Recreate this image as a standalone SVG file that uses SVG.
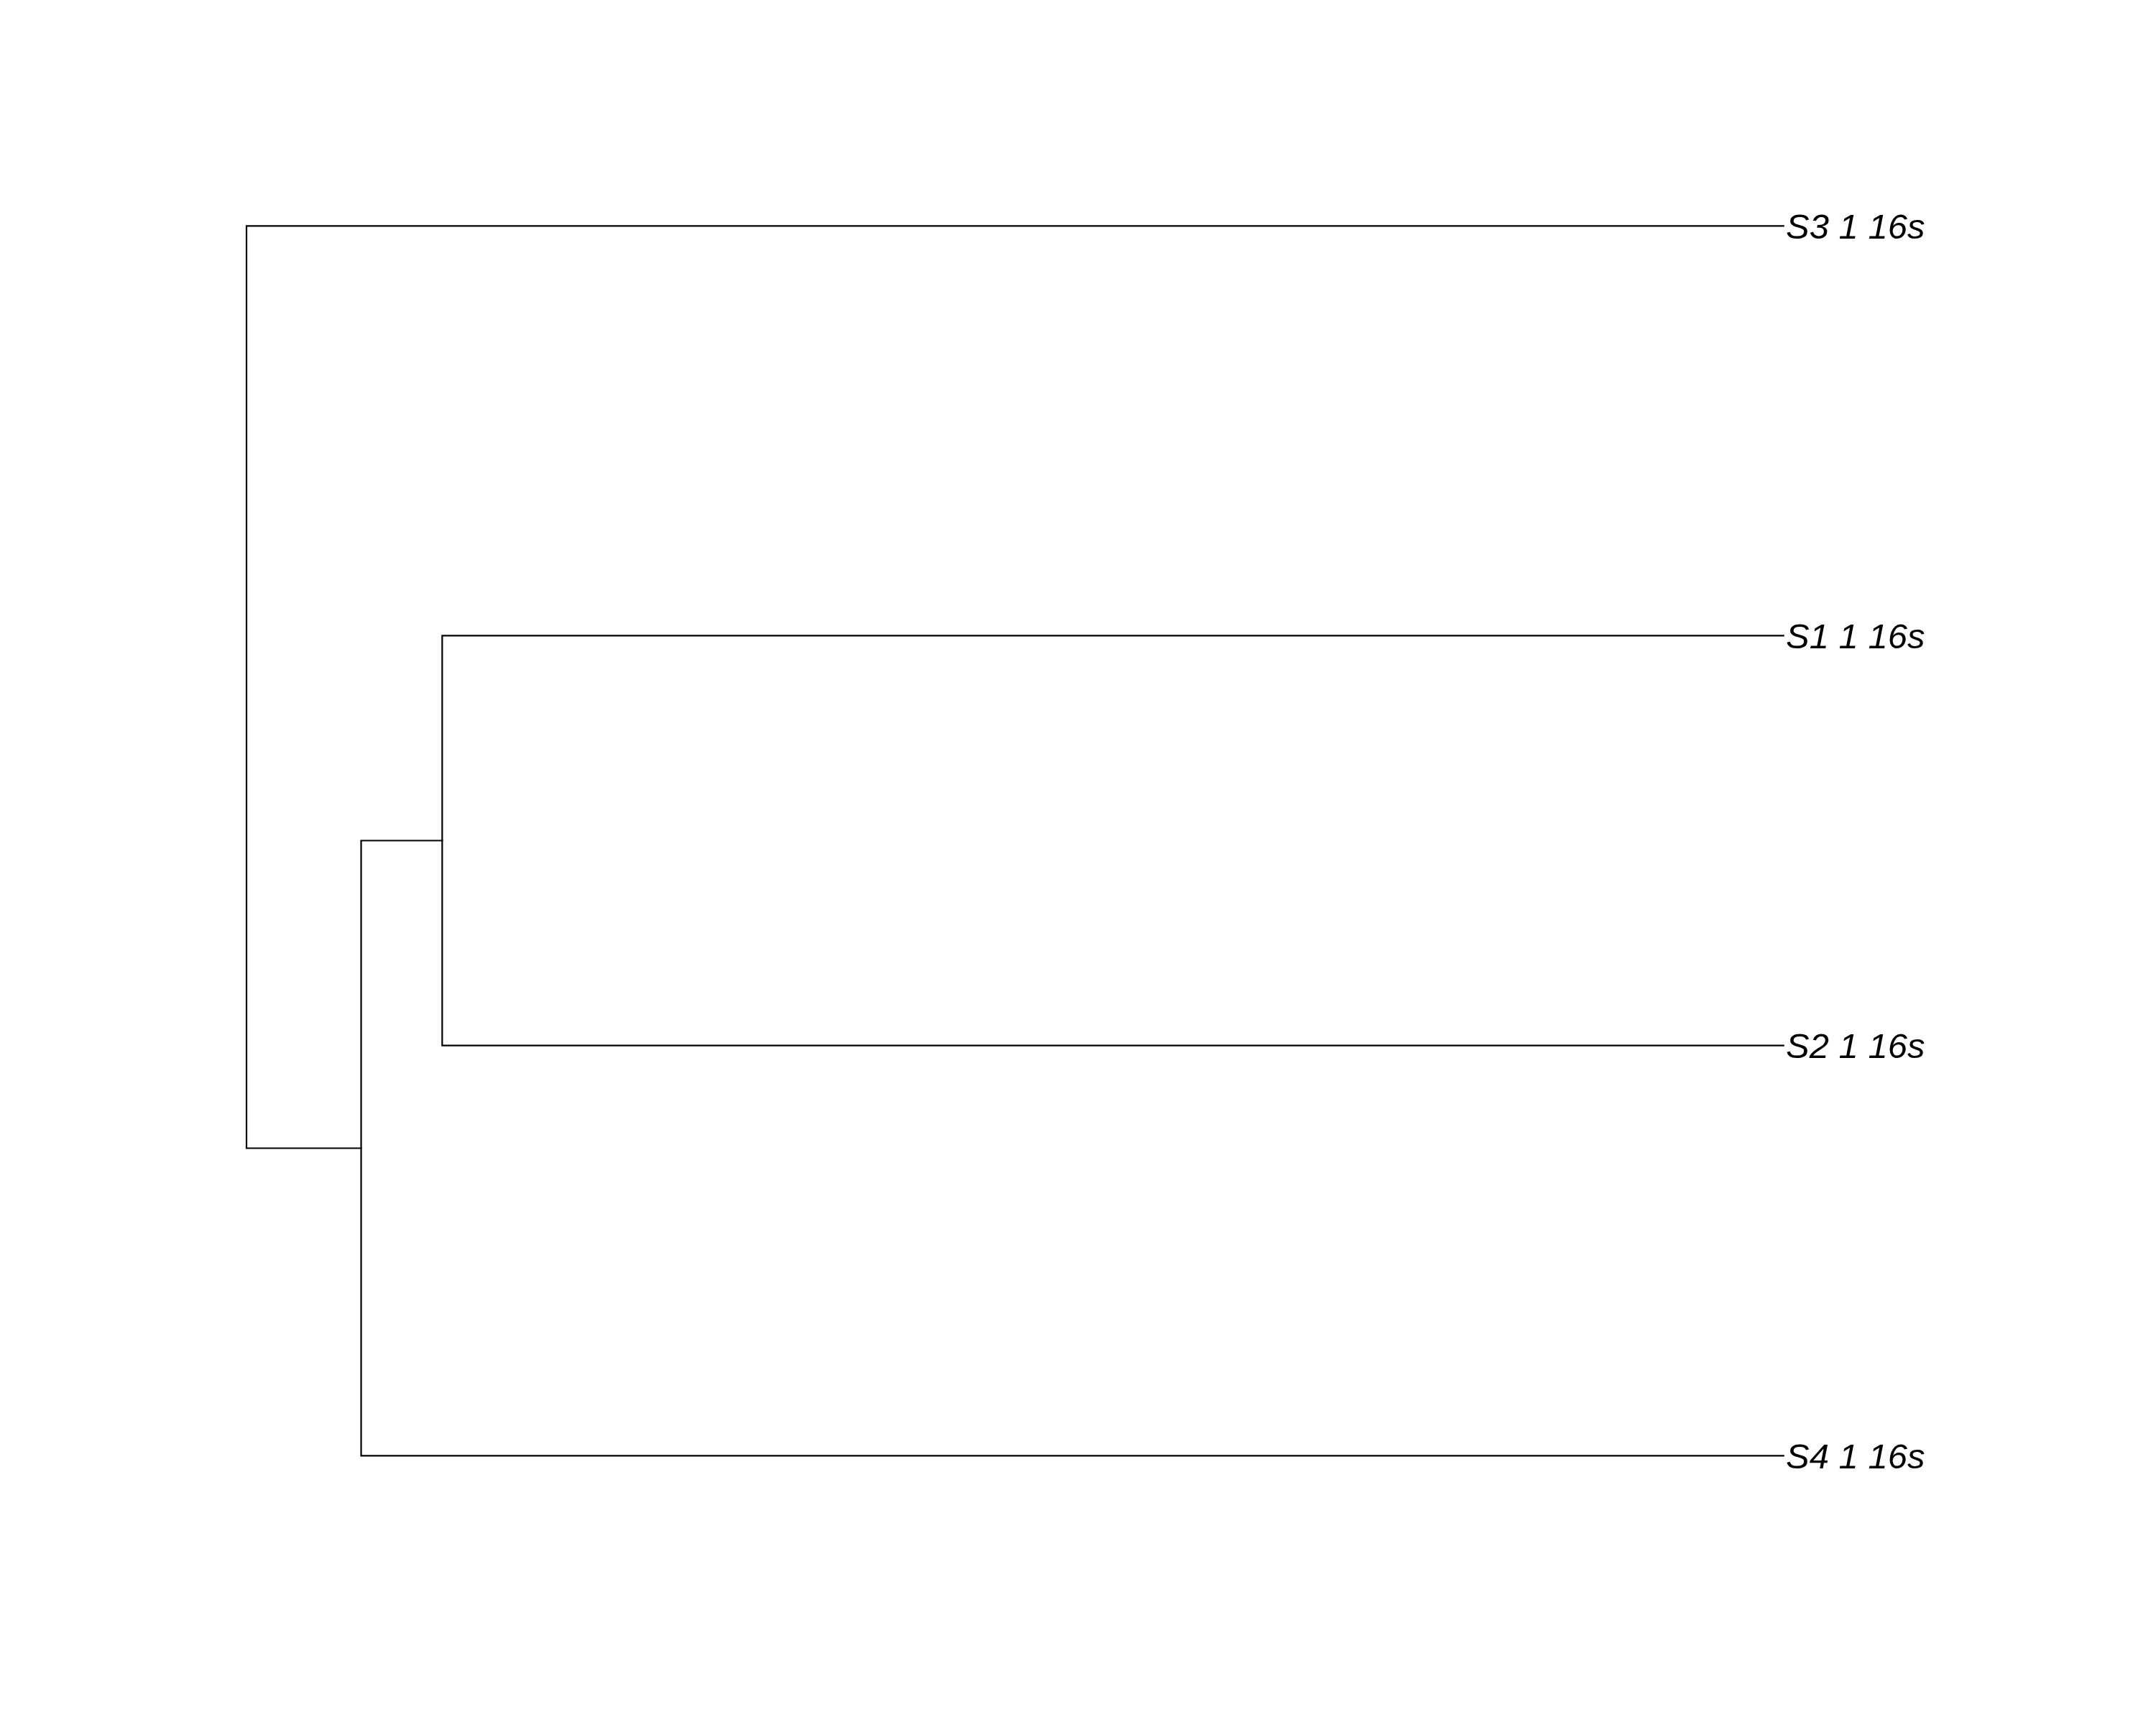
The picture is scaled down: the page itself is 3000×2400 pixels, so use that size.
<svg xmlns="http://www.w3.org/2000/svg" width="3000" height="2400" viewBox="0 0 3000 2400">
<style>
.e{fill:none;stroke:#000;stroke-width:2.2;stroke-linecap:square}
.l{font-family:"Liberation Sans",Arial,sans-serif;font-style:italic;font-size:49px;fill:#000}
</style>
<rect width="3000" height="2400" fill="#fff"/>
<g id="connectors">
<path class="e" d="M343,314.3 V1597.5 M343,314.3 H2481.7 M343,1597.5 H502.5"/>
<path class="e" d="M502.5,1169.5 V2025.3 M502.5,1169.5 H615.3 M502.5,2025.3 H2481.7"/>
<path class="e" d="M615.3,884.3 V1454.7 M615.3,884.3 H2481.7 M615.3,1454.7 H2481.7"/>
</g>
<g id="S3"><text class="l" x="2485" y="331.8">S3 1 16s</text></g>
<g id="S1"><text class="l" x="2485" y="901.8">S1 1 16s</text></g>
<g id="S2"><text class="l" x="2485" y="1472.2">S2 1 16s</text></g>
<g id="S4"><text class="l" x="2485" y="2042.8">S4 1 16s</text></g>
</svg>
